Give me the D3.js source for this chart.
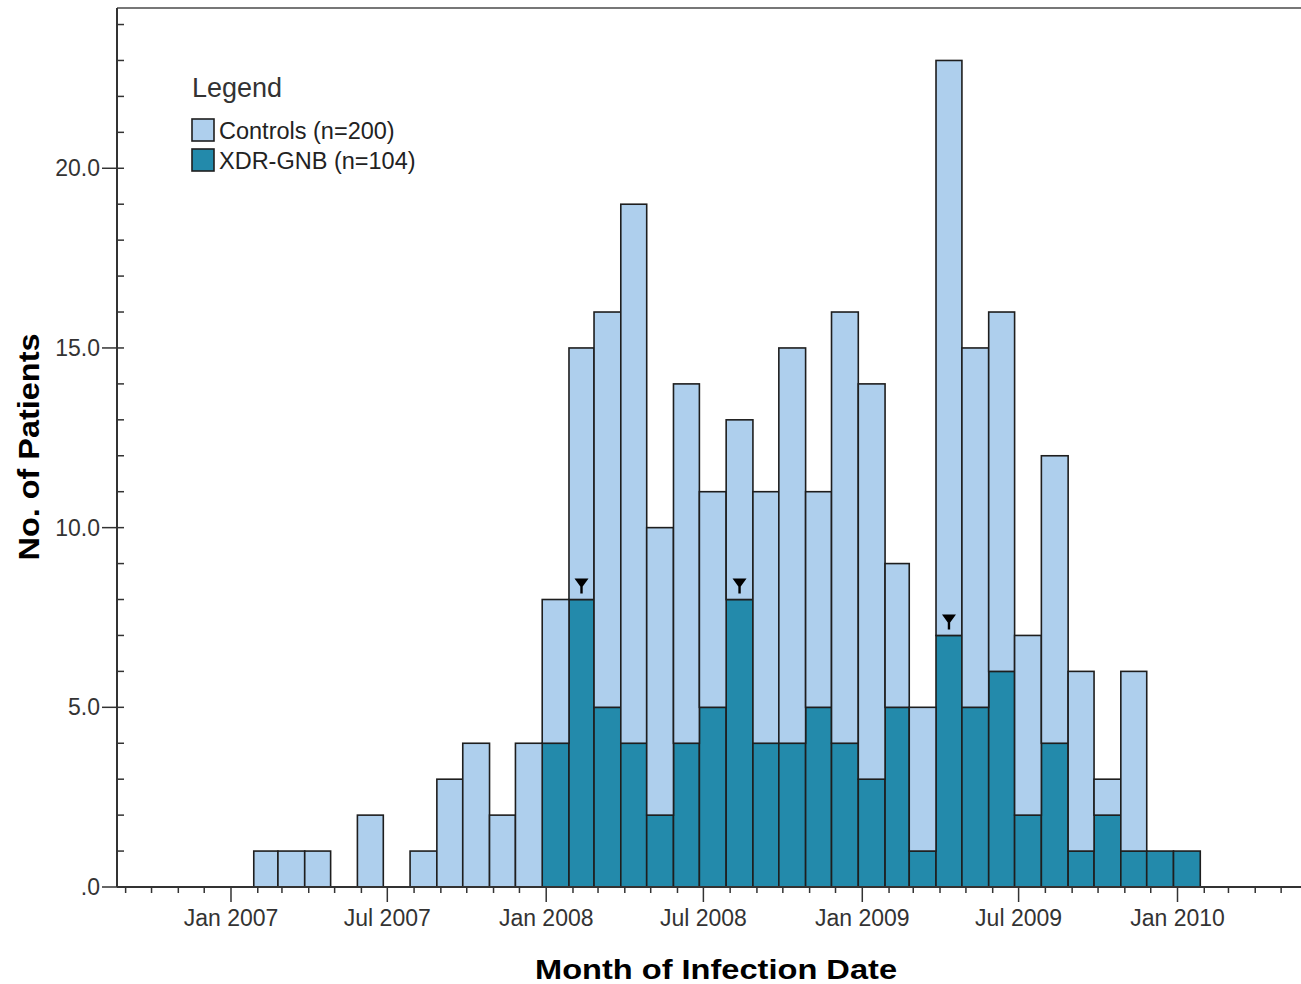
<!DOCTYPE html>
<html>
<head>
<meta charset="utf-8">
<script src="https://cdn.jsdelivr.net/npm/d3@7"></script>
<style>
  body { margin: 0; background: #fff; }
  svg text { font-family: "Liberation Sans", Arial, sans-serif; }
</style>
</head>
<body>
<svg id="chart" width="1301" height="984"></svg>
<script>
// months (bin start), one bar per month
var months = ["2007-02","2007-03","2007-04","2007-05","2007-06","2007-07","2007-08","2007-09","2007-10","2007-11","2007-12",
  "2008-01","2008-02","2008-03","2008-04","2008-05","2008-06","2008-07","2008-08","2008-09","2008-10","2008-11","2008-12",
  "2009-01","2009-02","2009-03","2009-04","2009-05","2009-06","2009-07","2009-08","2009-09","2009-10","2009-11","2009-12",
  "2010-01"];
// XDR-GNB cases per month
var xdr = [0,0,0,0,0,0,0,0,0,0,0,
  4,8,5,4,2,4,5,8,4,4,5,4,
  3,5,1,7,5,6,2,4,1,2,1,1,
  1];
// controls per month (stacked on top)
var controls = [1,1,1,0,2,0,1,3,4,2,4,
  4,7,11,15,8,10,6,5,7,11,6,12,
  11,4,4,16,10,10,5,8,5,1,5,0,
  0];
// months flagged with a marker above the XDR bar
var markerMonths = ["2008-02","2008-08","2009-04"];
var yTicks = [0, 5, 10, 15, 20];
var yTickLabels = [".0", "5.0", "10.0", "15.0", "20.0"];

var seriesKeys = ["xdr", "controls"];
var seriesNames = { controls: "Controls (n=200)", xdr: "XDR-GNB (n=104)" };
var color = { controls: "#aecfed", xdr: "#238aab" };

var parseMonth = d3.timeParse("%Y-%m");
var fmt = d3.timeFormat("%b %Y");

var data = months.map(function (m, i) {
  return { month: parseMonth(m), xdr: xdr[i], controls: controls[i] };
});

var svg = d3.select("#chart");

var plotLeft = 117, plotRight = 1301, plotTop = 8, plotBottom = 887;

var x = d3.scaleTime()
  .domain([new Date(2006, 7, 22), new Date(2010, 4, 24)])
  .range([plotLeft, plotRight]);

var y = d3.scaleLinear()
  .domain([0, 24.46])
  .range([plotBottom, plotTop]);

var barShift = -4; // bins sit slightly left of the month ticks

// top frame line
svg.append("line")
  .attr("x1", plotLeft).attr("x2", plotRight)
  .attr("y1", plotTop).attr("y2", plotTop)
  .attr("stroke", "#777").attr("stroke-width", 2);

// stacked bars
var stacked = d3.stack().keys(seriesKeys)(data);

svg.append("g").selectAll("g")
  .data(stacked)
  .enter().append("g")
  .attr("fill", function (d) { return color[d.key]; })
  .selectAll("rect")
  .data(function (d) { return d.filter(function (v) { return v[1] > v[0]; }); })
  .enter().append("rect")
  .attr("x", function (d) { return x(d.data.month) + barShift; })
  .attr("width", function (d) { return x(d3.timeMonth.offset(d.data.month, 1)) - x(d.data.month); })
  .attr("y", function (d) { return y(d[1]); })
  .attr("height", function (d) { return y(d[0]) - y(d[1]); })
  .attr("stroke", "#1e1e1e")
  .attr("stroke-width", 1.6);

// markers above flagged XDR bars
var monthKey = d3.timeFormat("%Y-%m");
var markerData = data.filter(function (d) { return markerMonths.indexOf(monthKey(d.month)) >= 0; });
var marker = svg.append("g").selectAll("g")
  .data(markerData)
  .enter().append("g")
  .attr("transform", function (d) {
    var cx = (x(d.month) + x(d3.timeMonth.offset(d.month, 1))) / 2 + barShift;
    return "translate(" + cx + "," + y(d.xdr) + ")";
  });
marker.append("path")
  .attr("d", "M-7,-21 L7,-21 L1.2,-13 L1.2,-6 L-1.2,-6 L-1.2,-13 Z")
  .attr("fill", "#000");

// y axis
var yAxis = svg.append("g");
yAxis.append("line")
  .attr("x1", plotLeft).attr("x2", plotLeft)
  .attr("y1", plotTop).attr("y2", plotBottom)
  .attr("stroke", "#333").attr("stroke-width", 2);
yAxis.selectAll(".minor")
  .data(d3.range(1, 25))
  .enter().append("line")
  .attr("class", "minor")
  .attr("x1", plotLeft).attr("x2", plotLeft + 7)
  .attr("y1", function (d) { return y(d); })
  .attr("y2", function (d) { return y(d); })
  .attr("stroke", "#333").attr("stroke-width", 1.5);
yAxis.selectAll(".major")
  .data(yTicks)
  .enter().append("line")
  .attr("class", "major")
  .attr("x1", plotLeft - 15).attr("x2", plotLeft)
  .attr("y1", function (d) { return y(d); })
  .attr("y2", function (d) { return y(d); })
  .attr("stroke", "#333").attr("stroke-width", 1.5);
yAxis.selectAll("text")
  .data(yTicks)
  .enter().append("text")
  .attr("x", plotLeft - 17)
  .attr("y", function (d) { return y(d); })
  .attr("dy", "0.35em")
  .attr("text-anchor", "end")
  .attr("font-size", "23px")
  .attr("fill", "#333")
  .text(function (d, i) { return yTickLabels[i]; });

// x axis
var xAxis = svg.append("g");
xAxis.append("line")
  .attr("x1", plotLeft).attr("x2", plotRight)
  .attr("y1", plotBottom).attr("y2", plotBottom)
  .attr("stroke", "#333").attr("stroke-width", 2);
var monthTicks = x.ticks(d3.timeMonth.every(1));
xAxis.selectAll(".tick")
  .data(monthTicks)
  .enter().append("line")
  .attr("class", "tick")
  .attr("x1", function (d) { return x(d); })
  .attr("x2", function (d) { return x(d); })
  .attr("y1", plotBottom)
  .attr("y2", function (d) { return d.getMonth() % 6 === 0 ? plotBottom + 15 : plotBottom + 6; })
  .attr("stroke", "#333").attr("stroke-width", 1.5);
xAxis.selectAll("text")
  .data(monthTicks.filter(function (d) { return d.getMonth() % 6 === 0; }))
  .enter().append("text")
  .attr("x", function (d) { return x(d); })
  .attr("y", 926)
  .attr("text-anchor", "middle")
  .attr("font-size", "23px")
  .attr("fill", "#333")
  .text(function (d) { return fmt(d); });

// axis titles
svg.append("text")
  .attr("x", 716).attr("y", 979)
  .attr("text-anchor", "middle")
  .attr("font-size", "28px")
  .attr("font-weight", "bold")
  .attr("textLength", 362)
  .attr("lengthAdjust", "spacingAndGlyphs")
  .text("Month of Infection Date");

svg.append("text")
  .attr("transform", "translate(39,447) rotate(-90)")
  .attr("text-anchor", "middle")
  .attr("font-size", "30px")
  .attr("font-weight", "bold")
  .attr("textLength", 227)
  .attr("lengthAdjust", "spacingAndGlyphs")
  .text("No. of Patients");

// legend
var legend = svg.append("g").attr("transform", "translate(192,0)");
legend.append("text")
  .attr("x", 0).attr("y", 97)
  .attr("font-size", "27px")
  .attr("fill", "#333")
  .text("Legend");
var items = legend.selectAll(".item")
  .data(["controls", "xdr"])
  .enter().append("g")
  .attr("class", "item")
  .attr("transform", function (d, i) { return "translate(0," + (119 + i * 30) + ")"; });
items.append("rect")
  .attr("width", 22).attr("height", 22)
  .attr("fill", function (d) { return color[d]; })
  .attr("stroke", "#1e1e1e").attr("stroke-width", 1.6);
items.append("text")
  .attr("x", 27).attr("y", 20)
  .attr("font-size", "23.5px")
  .attr("fill", "#222")
  .text(function (d) { return seriesNames[d]; });
</script>
</body>
</html>
